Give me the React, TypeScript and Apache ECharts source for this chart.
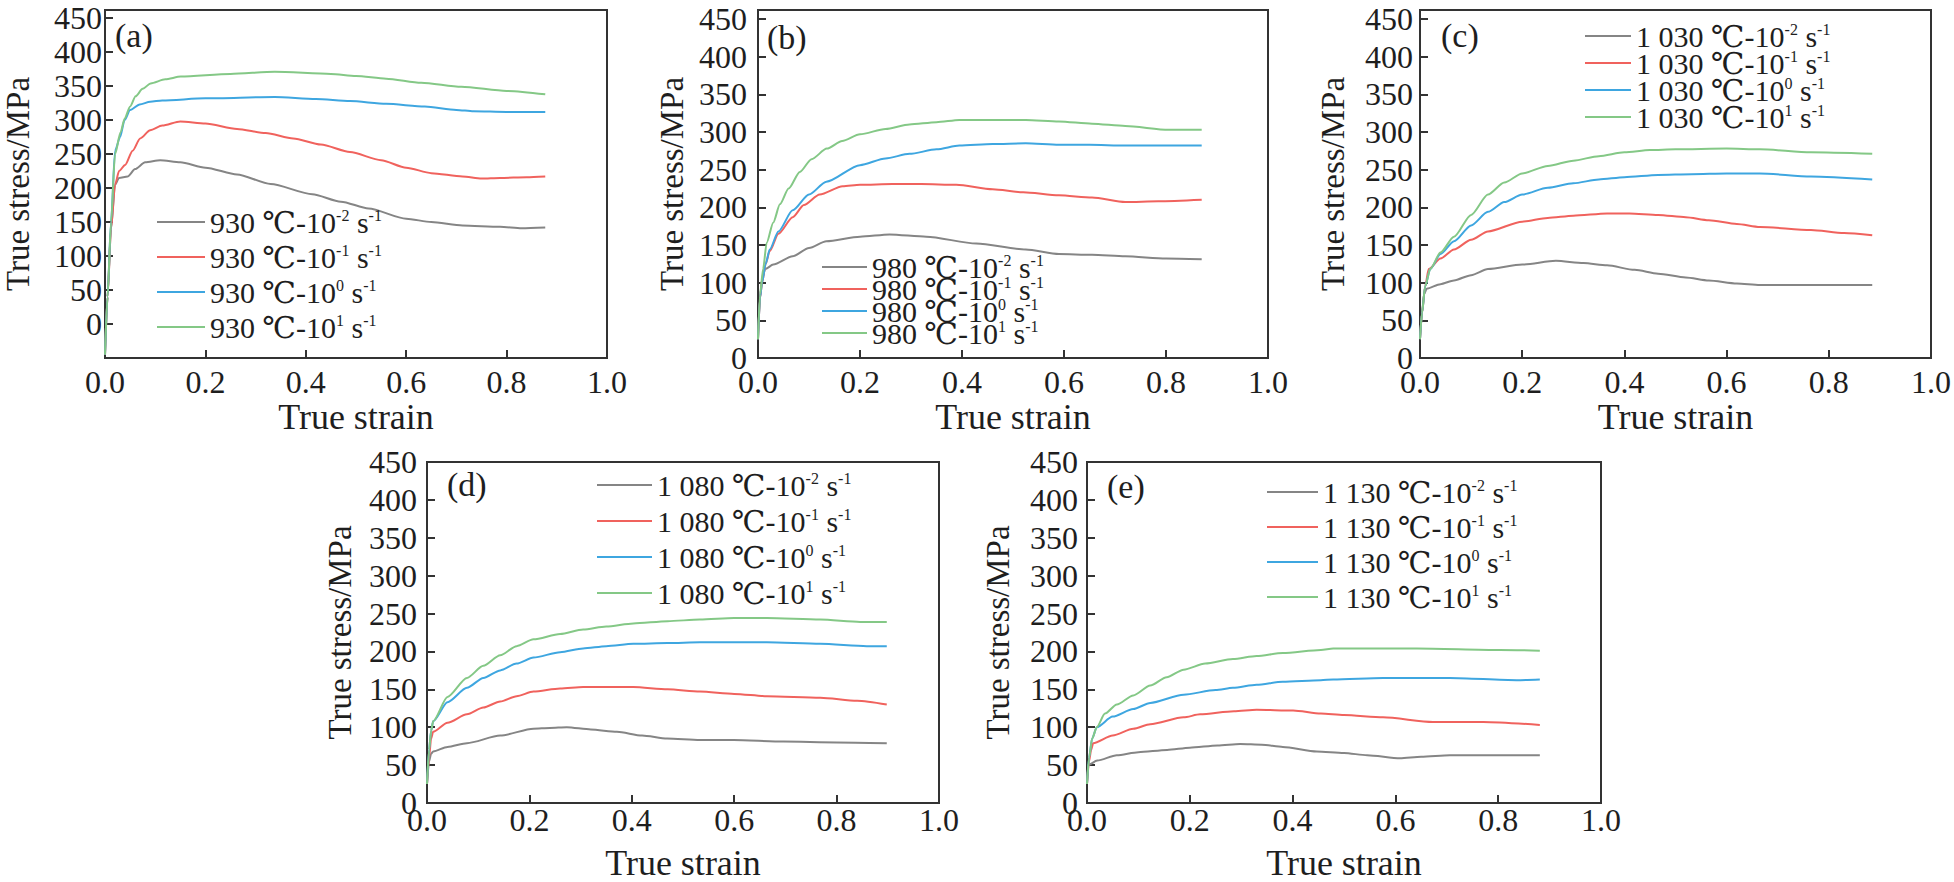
import React, { useEffect, useRef } from 'react';
import * as echarts from 'echarts';

// ---------- data (true strain, true stress / MPa) ----------
const temps = ['930', '980', '1 030', '1 080', '1 130'];
const rates = ['-2', '-1', '0', '1'];
const colors = ['#858585', '#f0625d', '#3ea6e0', '#84c886'];
const panelLabels = ['(a)', '(b)', '(c)', '(d)', '(e)'];
const strainTicks = [0, 0.2, 0.4, 0.6, 0.8, 1.0];
const stressMin = [-50, 0, 0, 0, 0];
const stressMax = [462, 462, 462, 450, 450];
const stressLabelMax = 450;

const a_gray = [[0,-45],[0.005,40],[0.012,140],[0.02,205],[0.028,215],[0.045,217],[0.06,228],[0.08,238],[0.11,241],[0.15,238],[0.2,230],[0.263,220],[0.33,206],[0.413,191],[0.47,180],[0.525,170],[0.6,155],[0.65,150],[0.712,145],[0.787,143],[0.83,141],[0.877,142]];
const a_red = [[0,-45],[0.005,40],[0.012,140],[0.02,205],[0.028,225],[0.04,234],[0.055,255],[0.07,273],[0.09,285],[0.114,292],[0.15,298],[0.2,295],[0.263,287],[0.32,281],[0.375,273],[0.43,264],[0.488,253],[0.55,241],[0.6,230],[0.65,222],[0.712,217],[0.75,214],[0.787,215],[0.84,216],[0.877,217]];
const a_blue = [[0,-45],[0.005,40],[0.012,150],[0.02,255],[0.03,275],[0.039,300],[0.05,315],[0.069,323],[0.09,327],[0.114,329],[0.2,332],[0.338,334],[0.42,331],[0.488,328],[0.56,324],[0.637,320],[0.7,315],[0.734,313],[0.8,312],[0.877,312]];
const a_green = [[0,-45],[0.005,40],[0.012,150],[0.02,250],[0.031,282],[0.039,302],[0.05,320],[0.061,335],[0.075,346],[0.091,354],[0.12,360],[0.151,364],[0.25,368],[0.338,371],[0.45,368],[0.5,365],[0.56,361],[0.63,355],[0.71,349],[0.8,343],[0.877,338]];

const b_gray = [[0,25],[0.004,80],[0.008,105],[0.014,118],[0.03,124],[0.068,135],[0.1,146],[0.134,155],[0.2,161],[0.258,164],[0.33,161],[0.428,152],[0.525,144],[0.59,138],[0.655,137],[0.72,135],[0.8,132],[0.87,131]];
const b_red = [[0,25],[0.004,80],[0.008,100],[0.015,125],[0.023,142],[0.04,165],[0.068,187],[0.09,203],[0.121,217],[0.166,228],[0.2,230],[0.264,231],[0.32,231],[0.389,230],[0.46,224],[0.52,220],[0.59,216],[0.655,213],[0.72,207],[0.785,208],[0.87,210]];
const b_blue = [[0,25],[0.004,80],[0.008,100],[0.015,125],[0.023,144],[0.04,168],[0.068,196],[0.1,217],[0.134,234],[0.2,256],[0.25,265],[0.297,271],[0.35,277],[0.395,282],[0.46,284],[0.525,285],[0.59,283],[0.65,283],[0.72,282],[0.8,282],[0.87,282]];
const b_green = [[0,25],[0.004,85],[0.01,118],[0.017,153],[0.03,180],[0.043,204],[0.06,225],[0.082,247],[0.105,264],[0.135,278],[0.165,288],[0.2,297],[0.25,304],[0.297,310],[0.35,313],[0.395,316],[0.46,316],[0.525,316],[0.59,314],[0.655,311],[0.72,308],[0.805,303],[0.87,303]];

const c_gray = [[0,25],[0.004,60],[0.008,85],[0.013,92],[0.04,98],[0.0665,103],[0.1,110],[0.133,118],[0.2,124],[0.266,129],[0.32,126],[0.366,123],[0.42,117],[0.466,112],[0.52,107],[0.565,103],[0.62,99],[0.665,97],[0.765,97],[0.885,97]];
const c_red = [[0,25],[0.004,60],[0.01,95],[0.017,118],[0.04,132],[0.0665,144],[0.1,157],[0.133,168],[0.2,181],[0.25,186],[0.3,189],[0.366,192],[0.41,192],[0.466,190],[0.52,187],[0.565,183],[0.62,178],[0.665,174],[0.765,170],[0.83,166],[0.885,163]];
const c_blue = [[0,25],[0.004,60],[0.01,95],[0.02,118],[0.04,138],[0.0665,155],[0.1,176],[0.133,194],[0.165,207],[0.2,217],[0.25,226],[0.3,232],[0.35,237],[0.4,240],[0.466,243],[0.532,244],[0.6,245],[0.665,245],[0.765,241],[0.885,237]];
const c_green = [[0,25],[0.004,60],[0.01,95],[0.02,118],[0.04,140],[0.0665,161],[0.1,190],[0.133,217],[0.165,233],[0.2,245],[0.25,255],[0.3,262],[0.35,268],[0.4,273],[0.45,276],[0.5,277],[0.6,278],[0.665,277],[0.765,273],[0.885,271]];

const d_gray = [[0,25],[0.004,55],[0.008,65],[0.012,68],[0.04,74],[0.078,79],[0.143,89],[0.208,98],[0.24,99],[0.273,100],[0.32,97],[0.371,94],[0.42,89],[0.469,85],[0.533,83],[0.599,83],[0.696,81],[0.8,80],[0.898,79]];
const d_red = [[0,25],[0.004,60],[0.008,85],[0.012,94],[0.04,106],[0.078,117],[0.11,126],[0.143,134],[0.175,141],[0.208,147],[0.26,151],[0.305,153],[0.403,153],[0.47,150],[0.533,147],[0.6,144],[0.664,141],[0.768,139],[0.84,135],[0.898,130]];
const d_blue = [[0,25],[0.004,70],[0.008,95],[0.012,108],[0.04,133],[0.078,152],[0.11,165],[0.143,175],[0.175,184],[0.208,192],[0.26,199],[0.305,204],[0.35,207],[0.403,210],[0.47,211],[0.533,212],[0.6,212],[0.664,212],[0.768,210],[0.859,207],[0.898,207]];
const d_green = [[0,25],[0.004,70],[0.008,95],[0.012,108],[0.04,140],[0.078,165],[0.11,181],[0.143,195],[0.175,207],[0.208,216],[0.26,223],[0.305,229],[0.35,233],[0.403,237],[0.47,240],[0.533,242],[0.6,244],[0.664,244],[0.768,242],[0.846,239],[0.898,239]];

const e_gray = [[0,25],[0.002,50],[0.02,56],[0.058,63],[0.1,67],[0.156,70],[0.2,73],[0.254,76],[0.298,78],[0.34,77],[0.381,74],[0.447,68],[0.5,66],[0.545,63],[0.609,59],[0.65,61],[0.706,63],[0.803,63],[0.881,63]];
const e_red = [[0,25],[0.004,55],[0.008,70],[0.012,79],[0.05,89],[0.09,98],[0.123,104],[0.188,113],[0.22,117],[0.286,121],[0.33,123],[0.401,122],[0.455,118],[0.5,116],[0.576,113],[0.673,107],[0.771,107],[0.881,103]];
const e_blue = [[0,25],[0.004,60],[0.01,85],[0.019,100],[0.05,114],[0.09,124],[0.123,132],[0.188,143],[0.25,149],[0.284,152],[0.33,156],[0.381,160],[0.455,162],[0.479,163],[0.576,165],[0.706,165],[0.836,162],[0.881,163]];
const e_green = [[0,25],[0.004,60],[0.01,85],[0.019,100],[0.035,118],[0.058,130],[0.09,142],[0.123,155],[0.155,166],[0.188,176],[0.23,184],[0.284,190],[0.33,194],[0.381,198],[0.455,202],[0.479,204],[0.642,204],[0.803,202],[0.881,201]];

const panelData = [
  [a_gray, a_red, a_blue, a_green],
  [b_gray, b_red, b_blue, b_green],
  [c_gray, c_red, c_blue, c_green],
  [d_gray, d_red, d_blue, d_green],
  [e_gray, e_red, e_blue, e_green],
];

// ---------- layout ----------
const FONT = "'Liberation Serif', 'Times New Roman', 'DejaVu Serif', serif";
const TEXT = '#1e1e1e';
const AXIS = '#333333';
const LG_LH = 30;

const layout = [
  { left: 95, top: 10, width: 512, height: 348, yMargin: 3, xMargin: 8, xNameGap: 40, yNameGap: 71, lgLeft: 157, lgTop: 207, lgW: 48, lgGap: 5, tLeft: 115, tTop: 18 },
  { left: 758, top: 10, width: 510, height: 348, yMargin: 11, xMargin: 8, xNameGap: 40, yNameGap: 70, lgLeft: 822, lgTop: 252, lgW: 45, lgGap: -8, tLeft: 767, tTop: 20 },
  { left: 1420, top: 10, width: 512, height: 348, yMargin: 7, xMargin: 8, xNameGap: 40, yNameGap: 71, lgLeft: 1585, lgTop: 21, lgW: 46, lgGap: -3, tLeft: 1441, tTop: 18 },
  { left: 427, top: 462, width: 512, height: 349, yMargin: 10, xMargin: 1, xNameGap: 42, yNameGap: 71, lgLeft: 597, lgTop: 470, lgW: 55, lgGap: 6, tLeft: 447, tTop: 467 },
  { left: 1087, top: 462, width: 514, height: 349, yMargin: 9, xMargin: 1, xNameGap: 42, yNameGap: 73, lgLeft: 1267, lgTop: 477, lgW: 51, lgGap: 5, tLeft: 1107, tTop: 469 },
];

const seriesName = (t: string, r: string) => `${t} ℃-10^${r} s^-1`;

// turn "930 ℃-10^-2 s^-1" into rich tokens with superscripts
const legendRich = (name: string) =>
  name
    .split(/\^(-?\d+)/)
    .map((seg, j) => (j % 2 === 1 ? `{sup|${seg}}` : seg ? `{n|${seg}}` : ''))
    .join('');

function buildOption() {
  const grid: any[] = [];
  const xAxis: any[] = [];
  const yAxis: any[] = [];
  const series: any[] = [];
  const legend: any[] = [];
  const title: any[] = [];

  layout.forEach((p, i) => {
    grid.push({ left: p.left, top: p.top, width: p.width, height: p.height, show: true, borderColor: AXIS, borderWidth: 2, containLabel: false });
    const lineStyle = { color: AXIS, width: 2 };
    xAxis.push({
      type: 'value', gridIndex: i, min: strainTicks[0], max: strainTicks[strainTicks.length - 1], interval: 0.2,
      axisLine: { show: true, onZero: false, lineStyle },
      axisTick: { show: true, inside: true, length: 8, lineStyle },
      axisLabel: { formatter: (v: number) => v.toFixed(1), fontSize: 32, fontFamily: FONT, color: TEXT, margin: p.xMargin },
      splitLine: { show: false },
      name: 'True strain', nameLocation: 'middle', nameGap: p.xNameGap,
      nameTextStyle: { fontSize: 36, fontFamily: FONT, color: TEXT },
    });
    yAxis.push({
      type: 'value', gridIndex: i, min: stressMin[i], max: stressMax[i], interval: 50,
      axisLine: { show: true, onZero: false, lineStyle },
      axisTick: { show: true, inside: true, length: 8, lineStyle },
      axisLabel: {
        formatter: (v: number) => (v < 0 || v > stressLabelMax ? '' : String(v)),
        fontSize: 32, fontFamily: FONT, color: TEXT, margin: p.yMargin, showMaxLabel: true, showMinLabel: true,
      },
      splitLine: { show: false },
      name: 'True stress/MPa', nameLocation: 'middle', nameGap: p.yNameGap,
      nameTextStyle: { fontSize: 33, fontFamily: FONT, color: TEXT },
    });
    const names: string[] = [];
    rates.forEach((r, k) => {
      const nm = seriesName(temps[i], r);
      names.push(nm);
      series.push({
        type: 'line', name: nm, xAxisIndex: i, yAxisIndex: i, data: panelData[i][k],
        symbol: 'none', smooth: 0.25, smoothMonotone: 'x',
        lineStyle: { color: colors[k], width: 2 }, itemStyle: { color: colors[k] },
        emphasis: { disabled: true },
      });
    });
    legend.push({
      data: names, left: p.lgLeft, top: p.lgTop, orient: 'vertical', icon: 'rect',
      itemWidth: p.lgW, itemHeight: 2, itemGap: p.lgGap, padding: 0, selectedMode: false,
      formatter: legendRich,
      textStyle: {
        fontSize: 30, fontFamily: FONT, color: TEXT, lineHeight: LG_LH,
        rich: {
          n: { fontSize: 30, fontFamily: FONT, color: TEXT, lineHeight: LG_LH },
          sup: { fontSize: 16, fontFamily: FONT, color: TEXT, lineHeight: 18, verticalAlign: 'top' },
        },
      },
    });
    title.push({ text: panelLabels[i], left: p.tLeft, top: p.tTop, padding: 0, textStyle: { fontSize: 34, fontWeight: 'normal', fontFamily: FONT, color: TEXT } });
  });

  return { animation: false, backgroundColor: '#ffffff', grid, xAxis, yAxis, series, legend, title };
}

export default function App() {
  const ref = useRef<HTMLDivElement>(null);
  useEffect(() => {
    if (!ref.current) return;
    const chart = echarts.init(ref.current, undefined, { renderer: 'svg' });
    chart.setOption(buildOption() as any);
    return () => chart.dispose();
  }, []);
  return <div ref={ref} style={{ position: 'fixed', left: 0, top: 0, width: 1954, height: 882, background: '#fff' }} />;
}
